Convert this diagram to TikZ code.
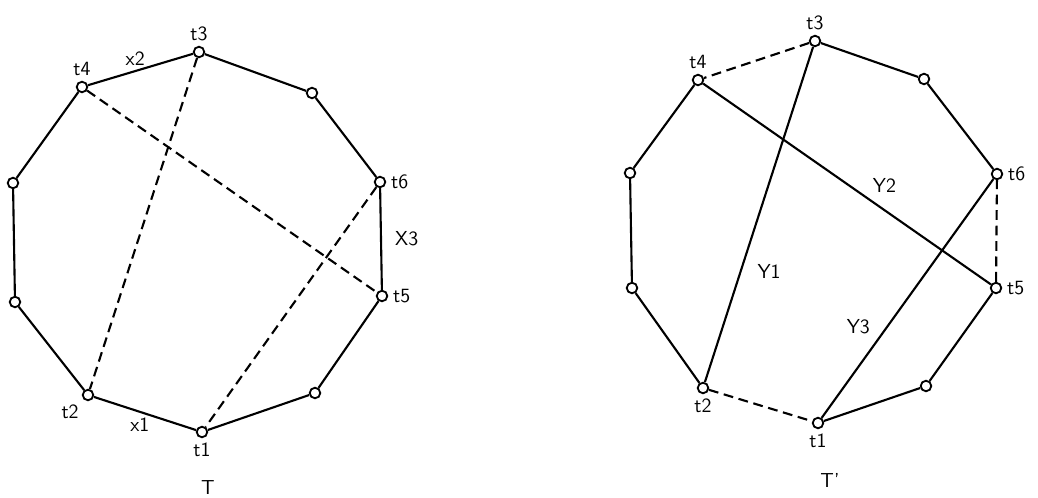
\documentclass[tikz,border=0pt]{standalone}
\usepackage{tikz}

\begin{document}
\begin{tikzpicture}[x=0.025cm, y=-0.025cm, font=\sffamily\Large]
    % Node and line styles
    \tikzstyle{vertex}=[circle,draw,fill=white,line width=1.3pt,inner sep=0pt,minimum size=7.5pt]
    \tikzstyle{side}=[line width=1.5pt]
    \tikzstyle{chord}=[line width=1.5pt,dash pattern=on 7pt off 4pt]

    \useasboundingbox (0,0) rectangle (1038,498);

    % --- Left polygon: T ---
    \node[vertex, label=below:t1] (l_t1) at (202,432) {};
    \node[vertex] (l_a) at (315,393) {};
    \node[vertex, label=right:t5] (l_t5) at (382,296) {};
    \node[vertex, label=right:t6] (l_t6) at (380,182) {};
    \node[vertex] (l_b) at (312,93) {};
    \node[vertex, label=above:t3] (l_t3) at (199,52) {};
    \node[vertex, label=above:t4] (l_t4) at (82,87) {};
    \node[vertex] (l_c) at (13,183) {};
    \node[vertex] (l_d) at (15,302) {};
    \node[vertex, label=below left:t2] (l_t2) at (88,395) {};

    % Sides
    \draw[side] (l_t1) -- (l_a) -- (l_t5);
    \draw[side] (l_t5) -- node[right=6pt] {X3} (l_t6);
    \draw[side] (l_t6) -- (l_b) -- (l_t3);
    \draw[side] (l_t3) -- node[above, pos=0.55] {x2} (l_t4);
    \draw[side] (l_t4) -- (l_c) -- (l_d) -- (l_t2);
    \draw[side] (l_t2) -- node[below, pos=0.45] {x1} (l_t1);

    % Dashed chords
    \draw[chord] (l_t3) -- (l_t2);
    \draw[chord] (l_t4) -- (l_t5);
    \draw[chord] (l_t6) -- (l_t1);

    \node (l_name) at (208,488) {T};

    % --- Right polygon: T' ---
    \node[vertex, label=below:t1] (r_t1) at (818,423) {};
    \node[vertex] (r_a) at (926,386) {};
    \node[vertex, label=right:t5] (r_t5) at (996,288) {};
    \node[vertex, label=right:t6] (r_t6) at (997,174) {};
    \node[vertex] (r_b) at (924,79) {};
    \node[vertex, label=above:t3] (r_t3) at (815,41) {};
    \node[vertex, label=above:t4] (r_t4) at (698,80) {};
    \node[vertex] (r_c) at (630,173) {};
    \node[vertex] (r_d) at (632,288) {};
    \node[vertex, label=below:t2] (r_t2) at (703,388) {};

    % Sides
    \draw[side] (r_t1) -- (r_a) -- (r_t5);
    \draw[chord] (r_t5) -- (r_t6);
    \draw[side] (r_t6) -- (r_b) -- (r_t3);
    \draw[chord] (r_t3) -- (r_t4);
    \draw[side] (r_t4) -- (r_c) -- (r_d) -- (r_t2);
    \draw[chord] (r_t2) -- (r_t1);

    % Solid chords
    \draw[side] (r_t3) -- node[right=8pt, pos=0.67] {Y1} (r_t2);
    \draw[side] (r_t4) -- node[above right, pos=0.57] {Y2} (r_t5);
    \draw[side] (r_t6) -- node[left=8pt, pos=0.62] {Y3} (r_t1);

    \node (r_name) at (830,480) {T'};
\end{tikzpicture}
\end{document}
